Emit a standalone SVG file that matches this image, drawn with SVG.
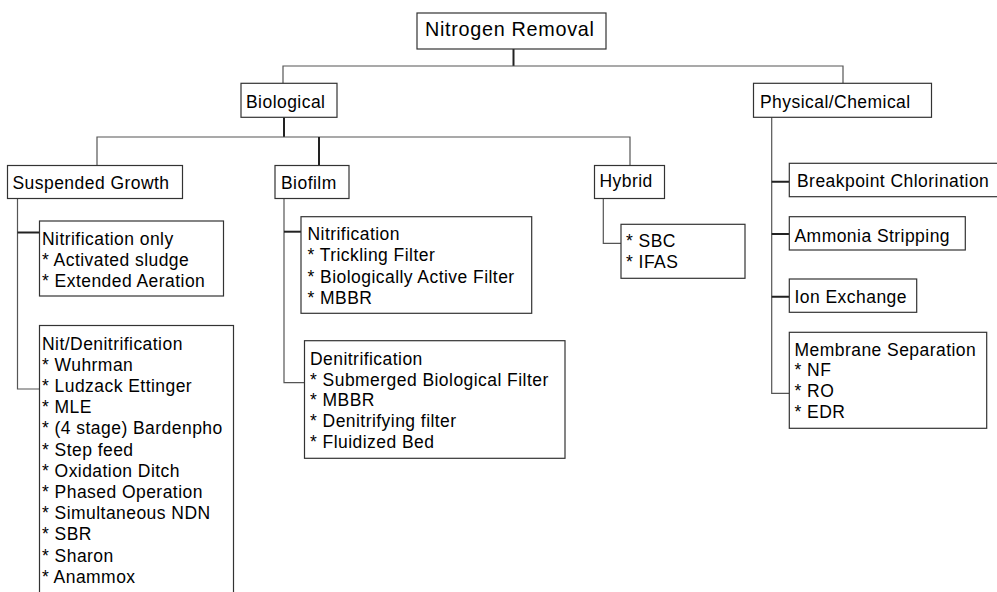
<svg xmlns="http://www.w3.org/2000/svg" width="997" height="592" viewBox="0 0 997 592">
<style>
  .box { fill: #fff; stroke: #333; stroke-width: 1.2; }
  text { font-family: "Liberation Sans", Arial, sans-serif; font-size: 17.5px; letter-spacing: 0.45px; fill: #000; }
  .title { font-size: 19.8px; letter-spacing: 0.7px; }
  .ln { fill: none; stroke: #555; stroke-width: 1.2; }
  .dk { fill: none; stroke: #222; stroke-width: 2; }
</style>
<rect width="997" height="592" fill="#fff"/>
<g id="connectors">
  <path class="dk" d="M513.5 49 V66"/>
  <path class="ln" d="M283 83 V66 H843 V83"/>
  <path class="dk" d="M284 117 V137"/>
  <path class="ln" d="M97 165.5 V137 H630 V165.5"/>
  <path class="dk" d="M319 137 V165.5"/>
  <path class="ln" d="M17.5 198.5 V389 H39.5"/>
  <path class="dk" d="M17.5 232.5 H39.5"/>
  <path class="ln" d="M284 198.5 V382.7 H304.5"/>
  <path class="dk" d="M284 231.7 H301"/>
  <path class="ln" d="M603.3 198.5 V243.3 H621"/>
  <path class="ln" d="M771.7 117 V393.3 H789.3"/>
  <path class="dk" d="M771.7 181.7 H789.3 M771.7 234 H789.3 M771.7 296.7 H789.3"/>
</g>
<g id="nitrogen-removal">
  <rect class="box" x="417" y="13" width="189" height="36"/>
  <text class="title" x="425" y="36">Nitrogen Removal</text>
</g>
<g id="biological">
  <rect class="box" x="241" y="83.3" width="96" height="34"/>
  <text x="246" y="108">Biological</text>
</g>
<g id="physical-chemical">
  <rect class="box" x="753.5" y="83.3" width="178" height="34"/>
  <text x="760" y="108">Physical/Chemical</text>
</g>
<g id="suspended-growth">
  <rect class="box" x="7.5" y="165.5" width="175" height="33"/>
  <text x="12.5" y="189">Suspended Growth</text>
</g>
<g id="biofilm">
  <rect class="box" x="275" y="165.5" width="74" height="33"/>
  <text x="281" y="189">Biofilm</text>
</g>
<g id="hybrid">
  <rect class="box" x="594.5" y="165.5" width="70" height="33"/>
  <text x="599.5" y="187">Hybrid</text>
</g>
<g id="nitrification-only">
  <rect class="box" x="39.5" y="221" width="184" height="75"/>
  <text x="42">
    <tspan x="42" y="245">Nitrification only</tspan>
    <tspan x="42" y="266">* Activated sludge</tspan>
    <tspan x="42" y="287">* Extended Aeration</tspan>
  </text>
</g>
<g id="nit-denitrification">
  <rect class="box" x="39.5" y="325.5" width="194" height="280"/>
  <text x="42">
    <tspan x="42" y="349.5">Nit/Denitrification</tspan>
    <tspan x="42" y="370.7">* Wuhrman</tspan>
    <tspan x="42" y="391.9">* Ludzack Ettinger</tspan>
    <tspan x="42" y="413.1">* MLE</tspan>
    <tspan x="42" y="434.3">* (4 stage) Bardenpho</tspan>
    <tspan x="42" y="455.5">* Step feed</tspan>
    <tspan x="42" y="476.7">* Oxidation Ditch</tspan>
    <tspan x="42" y="497.9">* Phased Operation</tspan>
    <tspan x="42" y="519.1">* Simultaneous NDN</tspan>
    <tspan x="42" y="540.3">* SBR</tspan>
    <tspan x="42" y="561.5">* Sharon</tspan>
    <tspan x="42" y="582.7">* Anammox</tspan>
  </text>
</g>
<g id="biofilm-nitrification">
  <rect class="box" x="301" y="216.7" width="230.7" height="96.6"/>
  <text x="307.5">
    <tspan x="307.5" y="240">Nitrification</tspan>
    <tspan x="307.5" y="261.3">* Trickling Filter</tspan>
    <tspan x="307.5" y="282.5">* Biologically Active Filter</tspan>
    <tspan x="307.5" y="303.5">* MBBR</tspan>
  </text>
</g>
<g id="biofilm-denitrification">
  <rect class="box" x="304.5" y="340.7" width="260.5" height="117.6"/>
  <text x="310">
    <tspan x="310" y="365">Denitrification</tspan>
    <tspan x="310" y="385.7">* Submerged Biological Filter</tspan>
    <tspan x="310" y="406.4">* MBBR</tspan>
    <tspan x="310" y="427">* Denitrifying filter</tspan>
    <tspan x="310" y="447.5">* Fluidized Bed</tspan>
  </text>
</g>
<g id="hybrid-list">
  <rect class="box" x="621" y="224.3" width="124" height="54"/>
  <text x="626">
    <tspan x="626" y="246.7">* SBC</tspan>
    <tspan x="626" y="268.3">* IFAS</tspan>
  </text>
</g>
<g id="breakpoint-chlorination">
  <rect class="box" x="789.3" y="163.3" width="209" height="33.4"/>
  <text x="797" y="187">Breakpoint Chlorination</text>
</g>
<g id="ammonia-stripping">
  <rect class="box" x="789.3" y="216.7" width="176" height="33.3"/>
  <text x="794.5" y="241.7">Ammonia Stripping</text>
</g>
<g id="ion-exchange">
  <rect class="box" x="789.3" y="279" width="127.4" height="33.3"/>
  <text x="794.5" y="302.7">Ion Exchange</text>
</g>
<g id="membrane-separation">
  <rect class="box" x="789.3" y="332.3" width="197.4" height="96"/>
  <text x="794.5">
    <tspan x="794.5" y="355.7">Membrane Separation</tspan>
    <tspan x="794.5" y="376.3">* NF</tspan>
    <tspan x="794.5" y="397.2">* RO</tspan>
    <tspan x="794.5" y="418.2">* EDR</tspan>
  </text>
</g>
</svg>
